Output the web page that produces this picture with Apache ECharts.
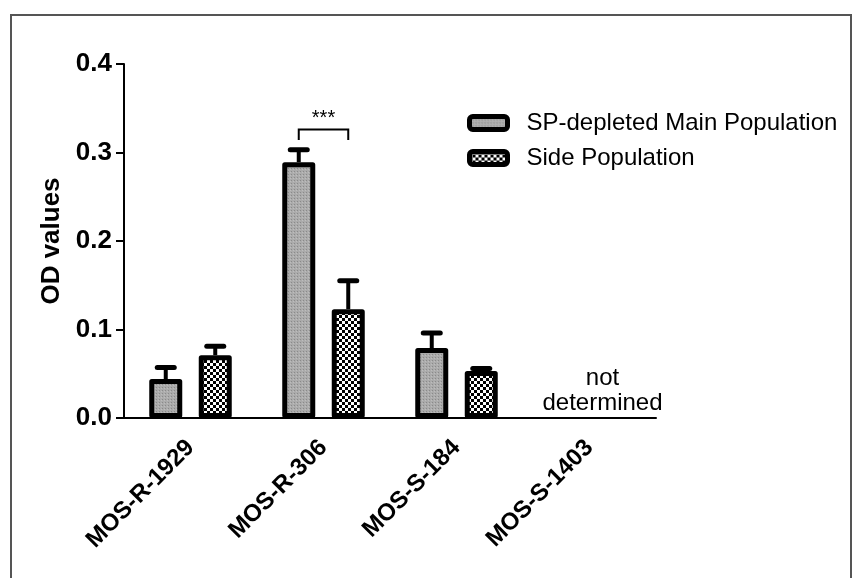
<!DOCTYPE html>
<html>
<head>
<meta charset="utf-8">
<script src="https://cdn.jsdelivr.net/npm/echarts@6/dist/echarts.min.js"></script>
<style>html,body{margin:0;padding:0;background:#fff}#c{width:861px;height:578px}</style>
</head>
<body>
<div id="c"></div>
<script>
// ---- data ----
const categories = ['MOS-R-1929', 'MOS-R-306', 'MOS-S-184', 'MOS-S-1403'];
const seriesNames = ['SP-depleted Main Population', 'Side Population'];
const mainValues = [0.044, 0.289, 0.079, null];
const sideValues = [0.071, 0.123, 0.053, null];
const mainErrors = [0.013, 0.014, 0.017, null];
const sideErrors = [0.010, 0.032, 0.003, null];
const yTicks = [0, 0.1, 0.2, 0.3, 0.4];
const sigCategory = 1;          // MOS-R-306
const sigBracketY = 0.326;
const sigDropY = 0.314;
const sigLabel = '***';
const sigLabelY = 0.338;
const ndCategory = 3;           // MOS-S-1403
const ndText = 'not\ndetermined';
const ndY = 0.031;

// ---- style constants ----
const FONT = 'Arial, "Liberation Sans", Helvetica, sans-serif';
const BAR_W = 33;
const BAR_GAP = 0.5;
const OFFSET = BAR_W * (1 + BAR_GAP) / 2;

function makePattern(kind) {
  const c = document.createElement('canvas');
  if (kind === 'dots') {
    c.width = 3; c.height = 3;
    const g = c.getContext('2d');
    g.fillStyle = '#ababab'; g.fillRect(0, 0, 3, 3);
    g.fillStyle = '#8a8a8a'; g.fillRect(0, 0, 1, 1);
    g.fillStyle = '#bdbdbd'; g.fillRect(2, 1, 1, 1);
  } else {
    c.width = 6; c.height = 6;
    const g = c.getContext('2d');
    g.fillStyle = '#ffffff'; g.fillRect(0, 0, 6, 6);
    g.fillStyle = '#000000'; g.fillRect(0, 0, 3, 3); g.fillRect(3, 3, 3, 3);
  }
  return { image: c, repeat: 'repeat' };
}
const mainFill = makePattern('dots');
const sideFill = makePattern('checker');

function errData(vals, errs) {
  const out = [];
  vals.forEach((v, i) => { if (v != null) out.push([i, v, v + errs[i]]); });
  return out;
}

function errRender(sign) {
  return function (params, api) {
    const base = api.coord([api.value(0), api.value(1)]);
    const top = api.coord([api.value(0), api.value(2)]);
    const x = base[0] + sign * OFFSET;
    return {
      type: 'group',
      children: [
        { type: 'line', shape: { x1: x, y1: base[1], x2: x, y2: top[1] },
          style: { stroke: '#000', lineWidth: 4 } },
        { type: 'line', shape: { x1: x - 8.5, y1: top[1], x2: x + 8.5, y2: top[1] },
          style: { stroke: '#000', lineWidth: 5, lineCap: 'round' } }
      ]
    };
  };
}

const chart = echarts.init(document.getElementById('c'), null, { renderer: 'canvas' });
chart.setOption({
  backgroundColor: '#fff',
  animation: false,
  textStyle: { fontFamily: FONT },
  graphic: [{
    type: 'rect', shape: { x: 11, y: 15, width: 840, height: 620 },
    style: { fill: 'none', stroke: '#555', lineWidth: 2 }, silent: true, z: -1
  }],
  grid: { left: 124, right: 205, top: 64, bottom: 160 },
  legend: {
    orient: 'vertical', left: 462, top: 106,
    itemWidth: 38, itemHeight: 13, itemGap: 11,
    data: seriesNames,
    itemStyle: { borderWidth: 5, borderColor: '#000', borderRadius: 3 },
    textStyle: { fontFamily: FONT, fontSize: 24, color: '#000', lineHeight: 24, padding: [0, 0, 0, 14] },
    icon: 'roundRect'
  },
  xAxis: {
    type: 'category', data: categories, boundaryGap: true,
    axisLine: { lineStyle: { color: '#000', width: 2 } },
    axisTick: { alignWithLabel: true, length: 10, lineStyle: { color: '#000', width: 2 } },
    axisLabel: { rotate: 45, margin: 26, color: '#000', fontFamily: FONT, fontSize: 24, fontWeight: 'bold', interval: 0 },
    splitLine: { show: false }
  },
  yAxis: {
    type: 'value', min: yTicks[0], max: yTicks[yTicks.length - 1], interval: 0.1,
    name: 'OD values', nameLocation: 'middle', nameGap: 58,
    nameTextStyle: { fontFamily: FONT, fontSize: 26, fontWeight: 'bold', color: '#000' },
    axisLine: { show: true, lineStyle: { color: '#000', width: 2 } },
    axisTick: { show: true, length: 8, lineStyle: { color: '#000', width: 2 } },
    axisLabel: { margin: 12, color: '#000', fontFamily: FONT, fontSize: 26, fontWeight: 'bold',
                 formatter: v => v.toFixed(1) },
    splitLine: { show: false }
  },
  series: [
    {
      name: 'err-main', type: 'custom', renderItem: errRender(-1),
      data: errData(mainValues, mainErrors), encode: { x: 0, y: [1, 2] }, z: 1, silent: true
    },
    {
      name: 'err-side', type: 'custom', renderItem: errRender(1),
      data: errData(sideValues, sideErrors), encode: { x: 0, y: [1, 2] }, z: 1, silent: true
    },
    {
      name: seriesNames[0], type: 'bar', data: mainValues, barWidth: BAR_W, barGap: (BAR_GAP * 100) + '%',
      itemStyle: { color: mainFill, borderColor: '#000', borderWidth: 5, borderJoin: 'round' }, z: 2
    },
    {
      name: seriesNames[1], type: 'bar', data: sideValues, barWidth: BAR_W, barGap: (BAR_GAP * 100) + '%',
      itemStyle: { color: sideFill, borderColor: '#000', borderWidth: 5, borderJoin: 'round' }, z: 2
    },
    {
      name: 'sig', type: 'custom', silent: true, z: 3,
      data: [[sigCategory, sigBracketY, sigDropY, sigLabelY]],
      encode: { x: 0, y: [1, 2, 3] },
      renderItem: function (params, api) {
        const c = api.coord([api.value(0), api.value(1)]);
        const d = api.coord([api.value(0), api.value(2)]);
        const t = api.coord([api.value(0), api.value(3)]);
        const xl = c[0] - OFFSET, xr = c[0] + OFFSET;
        return {
          type: 'group', children: [
            { type: 'polyline', shape: { points: [[xl, d[1]], [xl, c[1]], [xr, c[1]], [xr, d[1]]] },
              style: { stroke: '#000', lineWidth: 2, fill: 'none' } },
            { type: 'text', style: { text: sigLabel, x: c[0], y: t[1], align: 'center', verticalAlign: 'middle',
              font: '20px ' + FONT, fill: '#000' } }
          ]
        };
      }
    },
    {
      name: 'nd', type: 'custom', silent: true, z: 3,
      data: [[ndCategory, ndY]],
      encode: { x: 0, y: 1 },
      renderItem: function (params, api) {
        const p = api.coord([api.value(0), api.value(1)]);
        return {
          type: 'text', style: { text: ndText, x: p[0] + 13, y: p[1], align: 'center', verticalAlign: 'middle',
            font: '24px ' + FONT, fill: '#000', lineHeight: 25 }
        };
      }
    }
  ]
});
</script>
</body>
</html>
